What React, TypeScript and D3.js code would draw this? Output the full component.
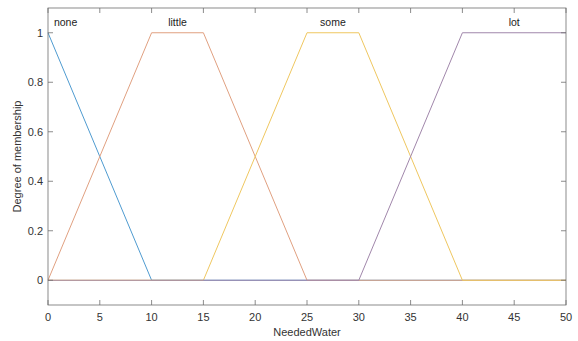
import React from "react";
import * as d3 from "d3";

// Membership functions for the NeededWater variable (breakpoints x, degree y)
const noneX = [0, 10, 50];
const noneY = [1, 0, 0];
const littleX = [0, 10, 15, 25, 50];
const littleY = [0, 1, 1, 0, 0];
const someX = [0, 15, 25, 30, 40, 50];
const someY = [0, 0, 1, 1, 0, 0];
const lotX = [0, 30, 40, 50];
const lotY = [0, 0, 1, 1];

const mfNames = ["none", "little", "some", "lot"];
const mfLabelX = [1.7, 12.5, 27.5, 45];
const mfColors = ["#4f9bd0", "#e0a080", "#efc760", "#a187ab"];

const xTicks = [0, 5, 10, 15, 20, 25, 30, 35, 40, 45, 50];
const yTicks = [0, 0.2, 0.4, 0.6, 0.8, 1];

const W = 578;
const H = 341;
const M = { left: 48, right: 12, top: 8, bottom: 36 };

export default function App() {
  const x = d3.scaleLinear().domain([0, 50]).range([M.left, W - M.right]);
  const y = d3.scaleLinear().domain([-0.1, 1.1]).range([H - M.bottom, M.top]);
  const line = d3
    .line<[number, number]>()
    .x((d) => x(d[0]))
    .y((d) => y(d[1]));

  const series = [
    [noneX, noneY],
    [littleX, littleY],
    [someX, someY],
    [lotX, lotY],
  ].map(([xs, ys]) => xs.map((v, i) => [v, ys[i]] as [number, number]));

  const x0 = x(0), x1 = x(50), yTop = y(1.1), yBot = y(-0.1);
  const axisColor = "#6e6e6e";
  const font = "'Liberation Sans', Arial, Helvetica, sans-serif";
  const tl = 5;

  return (
    <svg
      width={W}
      height={H}
      style={{ position: "absolute", left: 0, top: 0, background: "#fff" }}
      fontFamily={font}
    >
      <rect x={0} y={0} width={W} height={H} fill="#fff" />
      {series.map((pts, i) => (
        <path key={i} d={line(pts) || ""} fill="none" stroke={mfColors[i]} strokeWidth={1} />
      ))}
      {/* axes box */}
      <rect x={x0} y={yTop} width={x1 - x0} height={yBot - yTop} fill="none" stroke={axisColor} strokeWidth={0.8} />
      {xTicks.map((t) => (
        <g key={"x" + t}>
          <line x1={x(t)} x2={x(t)} y1={yBot} y2={yBot - tl} stroke={axisColor} strokeWidth={0.8} />
          <line x1={x(t)} x2={x(t)} y1={yTop} y2={yTop + tl} stroke={axisColor} strokeWidth={0.8} />
          <text x={x(t)} y={yBot + 16} fontSize={11} fill="#333" textAnchor="middle">
            {t}
          </text>
        </g>
      ))}
      {yTicks.map((t) => (
        <g key={"y" + t}>
          <line x1={x0} x2={x0 + tl} y1={y(t)} y2={y(t)} stroke={axisColor} strokeWidth={0.8} />
          <line x1={x1} x2={x1 - tl} y1={y(t)} y2={y(t)} stroke={axisColor} strokeWidth={0.8} />
          <text x={x0 - 5} y={y(t) + 4} fontSize={11} fill="#333" textAnchor="end">
            {t}
          </text>
        </g>
      ))}
      {mfNames.map((n, i) => (
        <text key={n} x={x(mfLabelX[i])} y={y(1.045) + 4} fontSize={10.5} fill="#222" textAnchor="middle">
          {n}
        </text>
      ))}
      <text x={(x0 + x1) / 2} y={H - 5} fontSize={11} fill="#333" textAnchor="middle">
        NeededWater
      </text>
      <text
        transform={`translate(${21},${(yTop + yBot) / 2}) rotate(-90)`}
        fontSize={11}
        fill="#333"
        textAnchor="middle"
      >
        Degree of membership
      </text>
    </svg>
  );
}
